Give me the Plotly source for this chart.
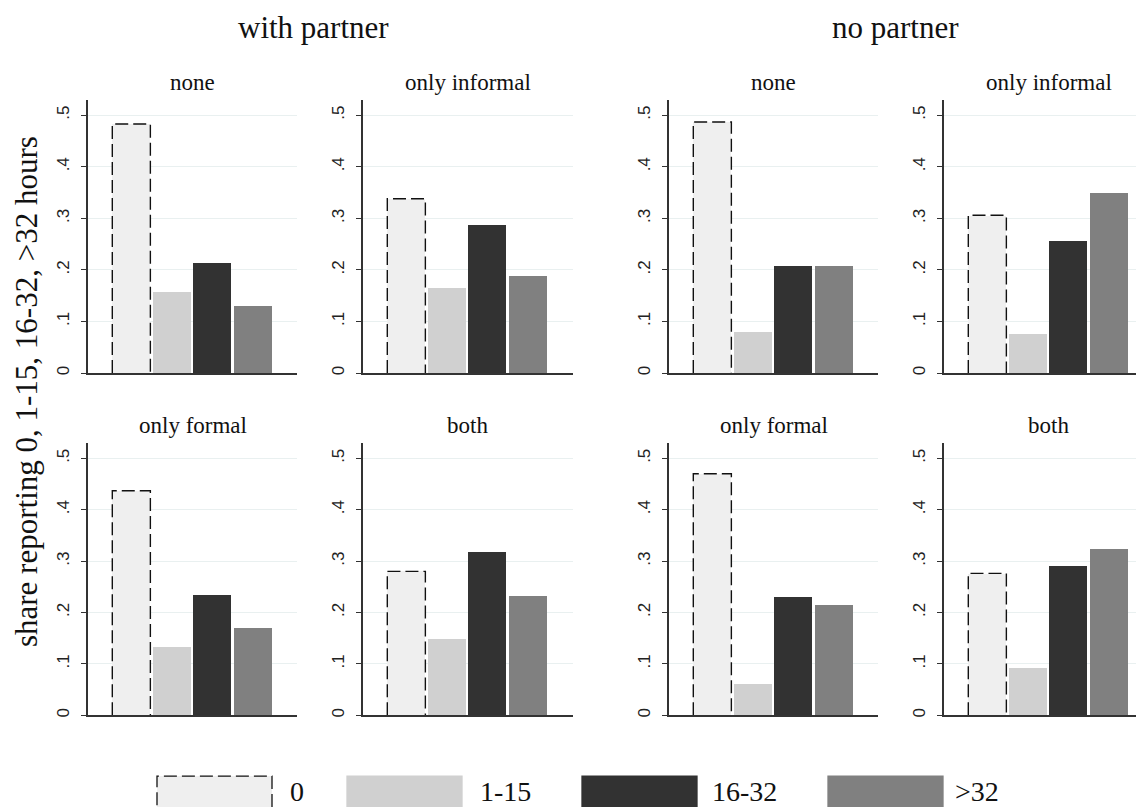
import plotly.graph_objects as go

# page is drawn with an 8px body margin; work in page pixels and convert
OFF = 8
W, H = 1144 - OFF, 807 - OFF

categories = ["0", "1-15", "16-32", ">32"]
groups = ["with partner", "no partner"]
panel_titles = ["none", "only informal", "only formal", "both"]

# share reporting per category, for each panel (group, care arrangement)
with_none = [0.483, 0.158, 0.214, 0.131]
with_informal = [0.338, 0.165, 0.288, 0.188]
with_formal = [0.437, 0.132, 0.235, 0.169]
with_both = [0.280, 0.148, 0.318, 0.232]
no_none = [0.487, 0.081, 0.209, 0.209]
no_informal = [0.306, 0.077, 0.257, 0.350]
no_formal = [0.470, 0.060, 0.231, 0.214]
no_both = [0.276, 0.092, 0.290, 0.323]

y_ticks = [0, 0.1, 0.2, 0.3, 0.4, 0.5]
y_tick_labels = ["0", ".1", ".2", ".3", ".4", ".5"]

colors = ["#efefef", "#d0d0d0", "#323232", "#808080"]
FONT = "Liberation Serif, Times New Roman, serif"
TICKFONT = "Liberation Sans, Arial, sans-serif"


def px(xp):
    return (xp - OFF) / W


def py(yp):
    return 1 - (yp - OFF) / H


panels = [
    (with_none, "none", 0, 0), (with_informal, "only informal", 1, 0),
    (no_none, "none", 2, 0), (no_informal, "only informal", 3, 0),
    (with_formal, "only formal", 0, 1), (with_both, "both", 1, 1),
    (no_formal, "only formal", 2, 1), (no_both, "both", 3, 1),
]

col_px = [(88, 297), (363, 573), (669, 878), (944, 1144)]
row_px = [(100, 374), (444, 717)]
pitch_px = 40.5
bar_w = 0.94

fig = go.Figure()
layout = {}
x = list(range(len(categories)))

for k, (vals, title, c, r) in enumerate(panels):
    idx = k + 1
    xa = "x" if idx == 1 else f"x{idx}"
    ya = "y" if idx == 1 else f"y{idx}"
    x0, x1 = col_px[c]
    y0, y1 = row_px[r]
    xdom = [px(x0), min(1.0, px(x1))]
    ydom = [py(y1), py(y0)]
    lo = -1.07
    hi = lo + (x1 - x0) / pitch_px
    fig.add_trace(go.Bar(
        x=x, y=vals, width=bar_w, xaxis=xa, yaxis=ya,
        marker=dict(color=colors, line=dict(width=0)),
        showlegend=False, hoverinfo="y",
    ))
    v0 = vals[0]
    fig.add_trace(go.Scatter(
        x=[x[0] - bar_w / 2, x[0] - bar_w / 2, x[0] + bar_w / 2, x[0] + bar_w / 2],
        y=[0, v0, v0, 0], mode="lines", xaxis=xa, yaxis=ya,
        line=dict(color="#111111", width=1.4, dash="13px,5px"),
        showlegend=False, hoverinfo="skip",
    ))
    xkey = "xaxis" if idx == 1 else f"xaxis{idx}"
    ykey = "yaxis" if idx == 1 else f"yaxis{idx}"
    layout[xkey] = dict(
        domain=xdom, anchor=ya, range=[lo, hi], showticklabels=False,
        ticks="", showgrid=False, zeroline=False, showline=True,
        linecolor="#333333", linewidth=1.5, fixedrange=True,
    )
    layout[ykey] = dict(
        domain=ydom, anchor=xa, range=[0, 0.53], tickvals=y_ticks,
        ticktext=y_tick_labels, tickangle=-90, ticks="outside", ticklen=5,
        tickcolor="#333333", tickfont=dict(family=TICKFONT, size=17, color="#222222"),
        ticklabelstandoff=5,
        showgrid=True, gridcolor="#e9f0f0", gridwidth=1, zeroline=False,
        showline=True, linecolor="#333333", linewidth=1.5, fixedrange=True,
    )

annotations = []
for vals, title, c, r in panels:
    x0 = col_px[c][0]
    xc = x0 + 104.5
    ty = 83 if r == 0 else 427
    annotations.append(dict(
        text=title, x=px(xc), y=py(ty), xref="paper", yref="paper",
        showarrow=False, xanchor="center", yanchor="middle",
        font=dict(family=FONT, size=23, color="#111111"),
    ))
for g, xc in zip(groups, [313, 895]):
    annotations.append(dict(
        text=g, x=px(xc), y=py(28), xref="paper", yref="paper",
        showarrow=False, xanchor="center", yanchor="middle",
        font=dict(family=FONT, size=31, color="#111111"),
    ))
annotations.append(dict(
    text="share reporting 0, 1-15, 16-32, >32 hours", x=px(26), y=py(393),
    xref="paper", yref="paper", showarrow=False, textangle=-90,
    xanchor="center", yanchor="middle",
    font=dict(family=FONT, size=31, color="#111111"),
))

shapes = []
legend_box_x = [157, 347, 582, 828]
legend_text_x = [288, 478, 710, 953]
for cat, col, bx, tx in zip(categories, colors, legend_box_x, legend_text_x):
    is_dashed = cat == "0"
    shapes.append(dict(
        type="rect", xref="paper", yref="paper",
        x0=px(bx), x1=px(bx + 115), y0=py(820), y1=py(778),
        fillcolor=col,
        line=dict(color="#111111" if is_dashed else col, width=1.3,
                  dash="13px,5px" if is_dashed else "solid"),
        layer="above",
    ))
    annotations.append(dict(
        text=cat, x=px(tx), y=py(793), xref="paper", yref="paper",
        showarrow=False, xanchor="left", yanchor="middle",
        font=dict(family=FONT, size=28, color="#111111"),
    ))

fig.update_layout(
    width=W, height=H, margin=dict(l=0, r=0, t=0, b=0),
    paper_bgcolor="white", plot_bgcolor="white",
    annotations=annotations, shapes=shapes, bargap=0,
    font=dict(family=FONT), **layout,
)

fig.write_html("out.html")
